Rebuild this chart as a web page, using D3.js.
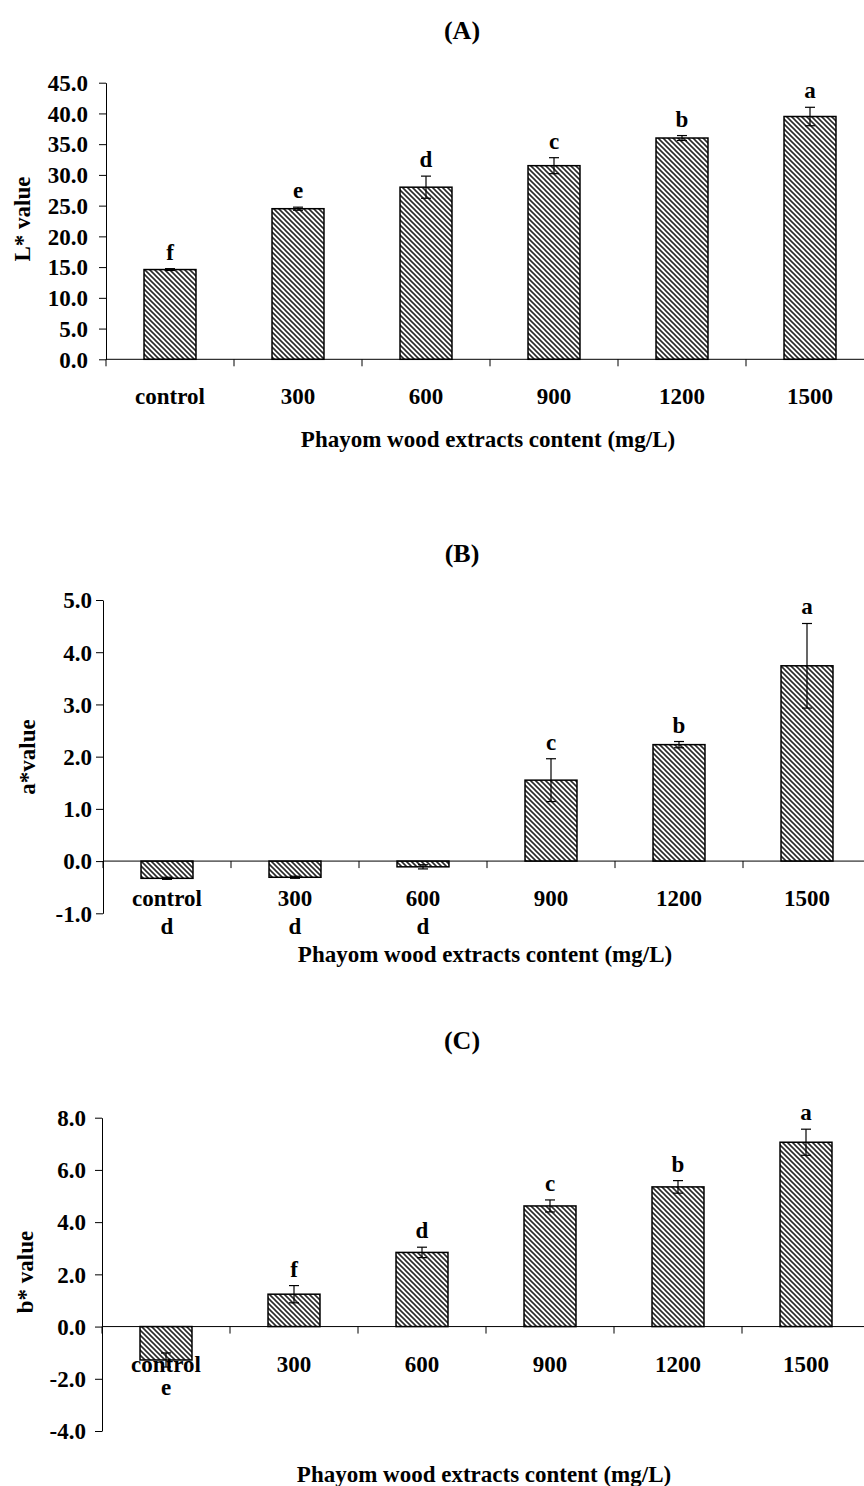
<!DOCTYPE html>
<html>
<head>
<meta charset="utf-8">
<script src="https://cdn.jsdelivr.net/npm/d3@7"></script>
<style>
  body { margin: 0; background: #fff; }
  svg text { font-family: "Liberation Serif", "Times New Roman", serif; font-weight: bold; fill: #000; }
</style>
</head>
<body>
<script>
// chart values
var categories = ["control", "300", "600", "900", "1200", "1500"];

var lValues = [14.6, 24.5, 28.0, 31.5, 36.0, 39.5];
var lErrors = [0.15, 0.25, 1.8, 1.3, 0.4, 1.5];
var lLetters = ["f", "e", "d", "c", "b", "a"];
var lTicks = [0, 5, 10, 15, 20, 25, 30, 35, 40, 45];

var aValues = [-0.33, -0.31, -0.11, 1.55, 2.23, 3.74];
var aErrors = [0.02, 0.02, 0.04, 0.41, 0.06, 0.81];
var aLetters = ["d", "d", "d", "c", "b", "a"];
var aTicks = [-1, 0, 1, 2, 3, 4, 5];

var bValues = [-1.28, 1.24, 2.84, 4.62, 5.35, 7.06];
var bErrors = [0.27, 0.33, 0.2, 0.23, 0.24, 0.5];
var bLetters = ["e", "f", "d", "c", "b", "a"];
var bTicks = [-4, -2, 0, 2, 4, 6, 8];

var xTitle = "Phayom wood extracts content (mg/L)";

var width = 864;
var height = 1486;

var svg = d3
  .select("body")
  .append("svg")
  .attr("width", width)
  .attr("height", height);

// diagonal hatch fill
svg
  .append("defs")
  .append("pattern")
  .attr("id", "hatch")
  .attr("patternUnits", "userSpaceOnUse")
  .attr("width", 5)
  .attr("height", 5)
  .append("path")
  .attr("d", "M-1,-1 L6,6 M-1,4 L1,6 M4,-1 L6,1")
  .attr("stroke", "#2a2a2a")
  .attr("stroke-width", 1.6);

var panels = [
  {
    title: "(A)", titleY: 39, yLabel: "L* value", yLabelX: 30, yLabelY: 219,
    values: lValues, errors: lErrors, letters: lLetters, ticks: lTicks,
    domain: [0, 45], yRange: [359.3, 82.7], xRange: [106, 874],
    tickPad: 11, belowOffset: 70, xTitleY: 447
  },
  {
    title: "(B)", titleY: 562, yLabel: "a*value", yLabelX: 35, yLabelY: 757,
    values: aValues, errors: aErrors, letters: aLetters, ticks: aTicks,
    domain: [-1, 5], yRange: [913.3, 600], xRange: [103, 871],
    tickPad: 4, belowOffset: 73, xTitleY: 962
  },
  {
    title: "(C)", titleY: 1049, yLabel: "b* value", yLabelX: 33, yLabelY: 1272,
    values: bValues, errors: bErrors, letters: bLetters, ticks: bTicks,
    domain: [-4, 8], yRange: [1431, 1117.7], xRange: [102, 870],
    tickPad: 9, belowOffset: 68, xTitleY: 1482
  }
];

panels.forEach(drawPanel);

function drawPanel(p) {
  var rows = categories.map(function(c, i) {
    return { cat: c, value: p.values[i], err: p.errors[i], letter: p.letters[i] };
  });

  var x = d3
    .scaleBand()
    .domain(categories)
    .range(p.xRange)
    .paddingInner(0.594)
    .paddingOuter(0.297);

  var y = d3.scaleLinear().domain(p.domain).range(p.yRange);

  var g = svg.append("g");
  var zero = y(0);

  // bars
  g.selectAll("rect.bar")
    .data(rows)
    .enter()
    .append("rect")
    .attr("class", "bar")
    .attr("x", function(d) { return x(d.cat); })
    .attr("y", function(d) { return y(Math.max(0, d.value)); })
    .attr("width", x.bandwidth())
    .attr("height", function(d) { return Math.abs(y(d.value) - zero); })
    .attr("fill", "url(#hatch)")
    .attr("stroke", "#000")
    .attr("stroke-width", 1.5);

  // error bars
  var eb = g.selectAll("g.err")
    .data(rows)
    .enter()
    .append("g")
    .attr("class", "err")
    .attr("stroke", "#000")
    .attr("stroke-width", 1.2);

  eb.append("line")
    .attr("x1", function(d) { return x(d.cat) + x.bandwidth() / 2; })
    .attr("x2", function(d) { return x(d.cat) + x.bandwidth() / 2; })
    .attr("y1", function(d) { return y(d.value + d.err); })
    .attr("y2", function(d) { return y(d.value - d.err); });

  [1, -1].forEach(function(s) {
    eb.append("line")
      .attr("x1", function(d) { return x(d.cat) + x.bandwidth() / 2 - 5; })
      .attr("x2", function(d) { return x(d.cat) + x.bandwidth() / 2 + 5; })
      .attr("y1", function(d) { return y(d.value + s * d.err); })
      .attr("y2", function(d) { return y(d.value + s * d.err); });
  });

  // y axis
  var yAxis = g.append("g")
    .attr("transform", "translate(" + p.xRange[0] + ",0)")
    .call(
      d3.axisLeft(y)
        .tickValues(p.ticks)
        .tickFormat(function(d) { return d.toFixed(1); })
        .tickSize(7)
        .tickSizeOuter(0)
        .tickPadding(p.tickPad)
    );
  yAxis.selectAll("text").style("font-size", "23px").attr("dy", "0.34em");
  yAxis.selectAll("line, path").attr("stroke", "#000");

  // category axis at zero
  g.append("line")
    .attr("x1", p.xRange[0])
    .attr("x2", p.xRange[1])
    .attr("y1", zero)
    .attr("y2", zero)
    .attr("stroke", "#000");

  g.selectAll("line.sep")
    .data(d3.range(categories.length + 1))
    .enter()
    .append("line")
    .attr("class", "sep")
    .attr("x1", function(i) { return x.range()[0] + i * x.step(); })
    .attr("x2", function(i) { return x.range()[0] + i * x.step(); })
    .attr("y1", zero)
    .attr("y2", zero + 7)
    .attr("stroke", "#000");

  g.selectAll("text.cat")
    .data(rows)
    .enter()
    .append("text")
    .attr("class", "cat")
    .attr("x", function(d) { return x(d.cat) + x.bandwidth() / 2; })
    .attr("y", zero + 45)
    .attr("text-anchor", "middle")
    .style("font-size", "23px")
    .text(function(d) { return d.cat; });

  // significance letters
  g.selectAll("text.letter")
    .data(rows)
    .enter()
    .append("text")
    .attr("class", "letter")
    .attr("x", function(d) { return x(d.cat) + x.bandwidth() / 2; })
    .attr("y", function(d) {
      return d.value < 0 ? zero + p.belowOffset : y(d.value + d.err) - 9;
    })
    .attr("text-anchor", "middle")
    .style("font-size", "23px")
    .text(function(d) { return d.letter; });

  // titles
  svg.append("text")
    .attr("x", 462)
    .attr("y", p.titleY)
    .attr("text-anchor", "middle")
    .style("font-size", "26px")
    .text(p.title);

  svg.append("text")
    .attr("x", (p.xRange[0] + p.xRange[1]) / 2 - 2)
    .attr("y", p.xTitleY)
    .attr("text-anchor", "middle")
    .style("font-size", "23px")
    .text(xTitle);

  svg.append("text")
    .attr("transform", "translate(" + p.yLabelX + "," + p.yLabelY + ") rotate(-90)")
    .attr("text-anchor", "middle")
    .style("font-size", "23px")
    .text(p.yLabel);
}
</script>
</body>
</html>
